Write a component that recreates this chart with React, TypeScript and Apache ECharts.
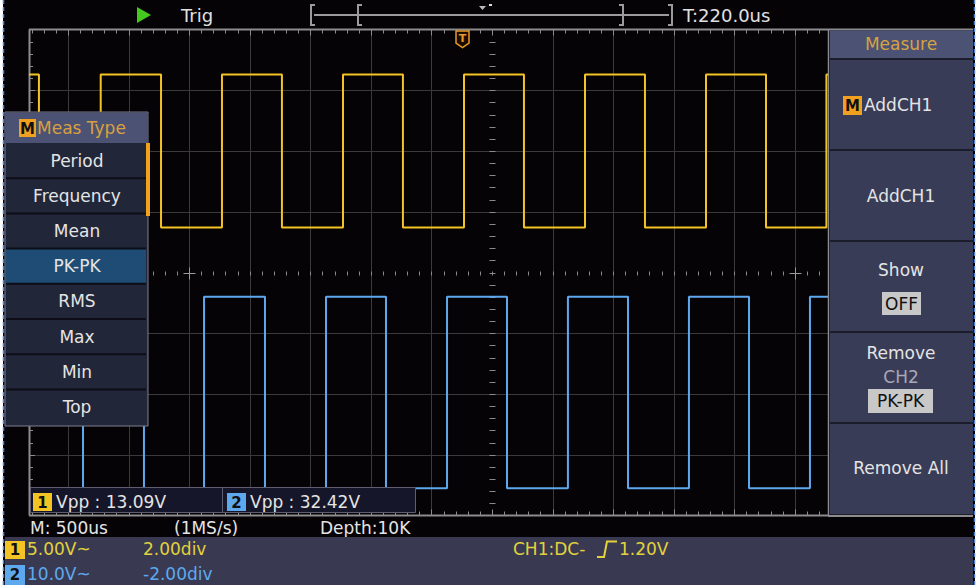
import React, { useEffect, useRef } from "react";
import * as echarts from "echarts";

// ---- axis / timebase ----
const X_MIN_US = -3822;
const X_MAX_US = 2774;
const US_PER_DIV = 500;
const Y_HALF_DIVS = 4;
const CURSOR_CROSS_US = [-2500, 2500];

// ---- channel 1 (yellow) ----
const CH1_FALL_US = [-3740, -2732, -1734, -735, 264, 1263, 2262];
const CH1_RISE_US = [-3230, -2229, -1230, -231, 768, 1767, 2761];
const CH1_HIGH_V = 6.3;
const CH1_LOW_V = -6.3;
const CH1_V_PER_DIV = 5;
const CH1_OFFSET_DIV = 2;

// ---- channel 2 (blue) ----
const CH2_RISE_US = [-3376, -2377, -1370, -371, 627, 1626, 2625];
const CH2_FALL_US = [-2873, -1874, -875, 124, 1123, 2122];
const CH2_HIGH_V = 16;
const CH2_LOW_V = -15.5;
const CH2_V_PER_DIV = 10;
const CH2_OFFSET_DIV = -2;

// ---- texts ----
const MEAS_TYPES = ["Period", "Frequency", "Mean", "PK-PK", "RMS", "Max", "Min", "Top"];
const SELECTED_TYPE = "PK-PK";
const MEAS_RESULTS = ["Vpp : 13.09V", "Vpp : 32.42V"];
const STATUS_TEXTS = ["M: 500us", "(1MS/s)", "Depth:10K"];
const CH_SCALES = ["5.00V~", "10.0V~"];
const CH_OFFSETS = ["2.00div", "-2.00div"];

const YELLOW = "#f4c424";
const BLUE = "#5ea9ee";
const FONT = '"DejaVu Sans", "Liberation Sans", sans-serif';

function squareWave(rise: number[], fall: number[], high: number, low: number, vdiv: number, off: number) {
  const edges = [
    ...rise.map((t) => ({ t, up: true })),
    ...fall.map((t) => ({ t, up: false })),
  ].sort((a, b) => a.t - b.t);
  const toDiv = (v: number) => v / vdiv + off;
  let level = edges[0].up ? low : high;
  const pts: number[][] = [[X_MIN_US, toDiv(level)]];
  for (const e of edges) {
    pts.push([e.t, toDiv(level)]);
    level = e.up ? high : low;
    pts.push([e.t, toDiv(level)]);
  }
  pts.push([X_MAX_US, toDiv(level)]);
  return pts;
}

function buildGraphics() {
  const els: any[] = [];
  const Z = 100;
  const rect = (x: number, y: number, w: number, h: number, fill: string, extra: any = {}) =>
    els.push({ type: "rect", z: Z, silent: true, shape: { x, y, width: w, height: h }, style: { fill, ...extra } });
  const txt = (x: number, y: number, text: string, fill: string, size = 17, align = "left", extra: any = {}) =>
    els.push({
      type: "text", z: Z, silent: true, x, y,
      style: { text, fill, fontSize: size, fontFamily: FONT, textAlign: align, textVerticalAlign: "middle", ...extra },
    });
  const poly = (pts: number[][], stroke: string, w = 1, extra: any = {}) =>
    els.push({ type: "polyline", z: Z, silent: true, shape: { points: pts }, style: { stroke, lineWidth: w, fill: null, ...extra } });
  const gon = (pts: number[][], fill: string, extra: any = {}) =>
    els.push({ type: "polygon", z: Z, silent: true, shape: { points: pts }, style: { fill, ...extra } });

  // ---- top bar ----
  gon([[137, 7], [137, 23], [151, 15]], "#45c81e");
  txt(181, 15, "Trig", "#e0e0e0", 18);
  const BR = "#9b9b9b";
  poly([[314, 15], [669, 15]], BR, 2);
  poly([[315, 5], [311, 5], [311, 25], [315, 25]], BR, 2);
  poly([[362, 5], [358, 5], [358, 25], [362, 25]], BR, 2);
  poly([[619, 5], [623, 5], [623, 25], [619, 25]], BR, 2);
  poly([[668, 5], [672, 5], [672, 25], [668, 25]], BR, 2);
  gon([[479, 6], [486, 6], [482.5, 10]], "#bbbbbb");
  rect(489, 4, 3, 2, "#dddddd");
  txt(683, 15, "T:220.0us", "#e0e0e0", 18);

  // trigger marker
  gon([[456, 31], [469, 31], [469, 43], [462.5, 47.5], [456, 43]], "#1a0d00", { stroke: "#e8992a", lineWidth: 1.5 });
  txt(462.5, 38.5, "T", "#e8992a", 11, "center", { fontWeight: "bold" });

  // ---- right menu ----
  poly([[828, 29.5], [973, 29.5]], "#8c8c8c", 2);
  rect(830, 30.5, 143, 484, "#393c56");
  poly([[828.5, 29], [828.5, 516]], "#8c8c8c", 1.5);
  rect(830, 30.5, 143, 28.5, "#4b5273");
  txt(901, 44, "Measure", "#d6a244", 17, "center");
  [59, 150, 241, 332, 423].forEach((y) => poly([[830, y], [973, y]], "#1c1d2b", 2));
  rect(843, 96, 19, 19, "#f2a11f");
  txt(852.5, 106, "M", "#111111", 15, "center", { fontWeight: "bold" });
  txt(864, 105, "AddCH1", "#e4e4e4", 17);
  txt(901, 196, "AddCH1", "#e4e4e4", 17, "center");
  txt(901, 270, "Show", "#e4e4e4", 17, "center");
  rect(882, 292, 39, 23, "#c8c8c8");
  txt(901.5, 303.5, "OFF", "#111111", 17, "center");
  txt(901, 353, "Remove", "#e4e4e4", 17, "center");
  txt(901, 377, "CH2", "#a8a8b8", 17, "center");
  rect(868, 389, 65, 24, "#c8c8c8");
  txt(900.5, 401, "PK-PK", "#111111", 17, "center");
  txt(901, 468, "Remove All", "#e4e4e4", 17, "center");

  // ---- left menu ----
  rect(5, 112, 143, 314, "#222639", { stroke: "#7d7f8f", lineWidth: 1 });
  rect(6, 113, 141, 30, "#4b5273");
  rect(19, 119, 17, 18, "#f2a11f");
  txt(27.5, 128.5, "M", "#111111", 15, "center", { fontWeight: "bold" });
  txt(37, 128, "Meas Type", "#d9a040", 17);
  const itemH = 35.2;
  MEAS_TYPES.forEach((name, i) => {
    const top = 143 + i * itemH;
    if (name === SELECTED_TYPE) rect(6, top, 140, itemH, "#1f4c75");
    if (i > 0) poly([[6, top], [146, top]], "#0c0d16", 2);
    txt(77, top + itemH / 2, name, "#e4e4e4", 17, "center");
  });
  rect(146, 143, 4, 73, "#f2a11f");

  // ---- measurement result box ----
  rect(30.5, 487.5, 385, 25, "#16162a", { stroke: "#5e5e70", lineWidth: 1 });
  poly([[222.5, 488], [222.5, 512]], "#5e5e70", 1);
  rect(33, 493, 19, 18, YELLOW);
  txt(42.5, 502.5, "1", "#111111", 15, "center", { fontWeight: "bold" });
  txt(56, 502, MEAS_RESULTS[0], "#e4e4e4", 17);
  rect(227, 493, 19, 18, BLUE);
  txt(236.5, 502.5, "2", "#111111", 15, "center", { fontWeight: "bold" });
  txt(250, 502, MEAS_RESULTS[1], "#e4e4e4", 17);

  // ---- status strip ----
  poly([[828, 516], [973, 516]], "#8c8c8c", 2);
  txt(30, 528, STATUS_TEXTS[0], "#e4e4e4", 17);
  txt(174, 528, STATUS_TEXTS[1], "#e4e4e4", 17);
  txt(320, 528, STATUS_TEXTS[2], "#e4e4e4", 17);

  // ---- bottom channel info ----
  rect(5, 537, 968, 48, "#393a52");
  rect(5, 541, 20, 18, YELLOW);
  txt(15, 550, "1", "#111111", 15, "center", { fontWeight: "bold" });
  txt(27, 549, CH_SCALES[0], "#e2d23c", 17);
  txt(143, 549, CH_OFFSETS[0], "#e2d23c", 17);
  rect(5, 565, 20, 20, BLUE);
  txt(15, 575, "2", "#111111", 15, "center", { fontWeight: "bold" });
  txt(27, 574, CH_SCALES[1], BLUE, 17);
  txt(143, 574, CH_OFFSETS[1], BLUE, 17);
  txt(513, 549, "CH1:DC-", "#e2d23c", 17);
  poly([[597, 557], [604, 557], [607, 541.5], [617, 541.5]], "#e2d23c", 2);
  txt(619, 549, "1.20V", "#e2d23c", 17);

  // ---- page edges (screenshot frame) ----
  rect(0, 0, 3, 585, "#ffffff");
  rect(975, 0, 3, 585, "#ffffff");
  poly([[3.5, 0], [3.5, 585]], "#4d7fd2", 1.5, { lineDash: [4, 3] });
  poly([[974.5, 0], [974.5, 585]], "#4d7fd2", 1.5, { lineDash: [4, 3] });
  return els;
}

function graticule(params: any, api: any) {
  const children: any[] = [];
  const GRID = "#3a3a3a";
  const BORDER = "#8c8c8c";
  const TICK = "#8a8a8a";
  const cr = (v: number) => Math.round(v) + 0.5;
  const ln = (x1: number, y1: number, x2: number, y2: number, stroke: string, w = 1) =>
    children.push({ type: "line", shape: { x1, y1, x2, y2 }, style: { stroke, lineWidth: w } });
  const [xl, yt] = api.coord([X_MIN_US, Y_HALF_DIVS]);
  const [xr, yb] = api.coord([X_MAX_US, -Y_HALF_DIVS]);
  const [xc, yc] = api.coord([0, 0]);

  for (let d = Math.ceil(X_MIN_US / US_PER_DIV); d * US_PER_DIV <= X_MAX_US; d++) {
    if (d === 0) continue;
    const x = cr(api.coord([d * US_PER_DIV, 0])[0]);
    ln(x, yt, x, yb, GRID);
  }
  for (let d = -Y_HALF_DIVS + 1; d < Y_HALF_DIVS; d++) {
    if (d === 0) continue;
    const y = cr(api.coord([0, d])[1]);
    ln(xl, y, xr, y, GRID);
  }
  // centre axes made of ticks
  for (let k = -Y_HALF_DIVS * 5 + 1; k < Y_HALF_DIVS * 5; k++) {
    const y = cr(api.coord([0, k / 5])[1]);
    ln(cr(xc) - 3, y, cr(xc) + 3, y, TICK);
  }
  for (let t = Math.ceil(X_MIN_US / 100) * 100; t <= X_MAX_US; t += 100) {
    const x = cr(api.coord([t, 0])[0]);
    ln(x, cr(yc) - 2, x, cr(yc) + 2, TICK);
  }
  CURSOR_CROSS_US.forEach((t) => {
    const x = cr(api.coord([t, 0])[0]);
    ln(x - 6, cr(yc), x + 6, cr(yc), "#9a9a9a");
    ln(x, cr(yc) - 6, x, cr(yc) + 6, "#9a9a9a");
  });
  // borders with ticks
  for (let t = Math.ceil(X_MIN_US / 100) * 100; t <= X_MAX_US; t += 100) {
    const x = cr(api.coord([t, 0])[0]);
    const len = t % 500 === 0 ? 6 : 4;
    ln(x, yt, x, yt + len, BORDER);
    ln(x, yb, x, yb - len, BORDER);
  }
  for (let k = -Y_HALF_DIVS * 5 + 1; k < Y_HALF_DIVS * 5; k++) {
    const y = cr(api.coord([0, k / 5])[1]);
    ln(xl, y, xl + (k % 5 === 0 ? 6 : 4), y, BORDER);
  }
  ln(xl, yt, xr, yt, BORDER, 2);
  ln(xl, yb, xr, yb, BORDER, 2);
  ln(xl + 0.5, yt, xl + 0.5, yb, BORDER, 2);
  return { type: "group", children };
}

export default function App() {
  const ref = useRef<HTMLDivElement>(null);
  useEffect(() => {
    document.body.style.margin = "0";
    const chart = echarts.init(ref.current!, null, { renderer: "svg" });
    const ch1 = squareWave(CH1_RISE_US, CH1_FALL_US, CH1_HIGH_V, CH1_LOW_V, CH1_V_PER_DIV, CH1_OFFSET_DIV);
    const ch2 = squareWave(CH2_RISE_US, CH2_FALL_US, CH2_HIGH_V, CH2_LOW_V, CH2_V_PER_DIV, CH2_OFFSET_DIV);
    chart.setOption({
      animation: false,
      backgroundColor: "#060307",
      grid: { left: 29, right: 150, top: 29.5, bottom: 69.5 },
      xAxis: { type: "value", min: X_MIN_US, max: X_MAX_US, show: false },
      yAxis: { type: "value", min: -Y_HALF_DIVS, max: Y_HALF_DIVS, show: false },
      series: [
        { type: "custom", data: [[0, 0]], renderItem: graticule, silent: true, clip: false, z: 1 },
        {
          type: "line", name: "CH1", data: ch1, showSymbol: false, symbol: "none", silent: true,
          lineStyle: { color: YELLOW, width: 2 }, z: 3,
        },
        {
          type: "line", name: "CH2", data: ch2, showSymbol: false, symbol: "none", silent: true,
          lineStyle: { color: BLUE, width: 2 }, z: 3,
        },
      ],
      graphic: { elements: buildGraphics() },
    });
    return () => chart.dispose();
  }, []);
  return <div ref={ref} style={{ width: 978, height: 585 }} />;
}
